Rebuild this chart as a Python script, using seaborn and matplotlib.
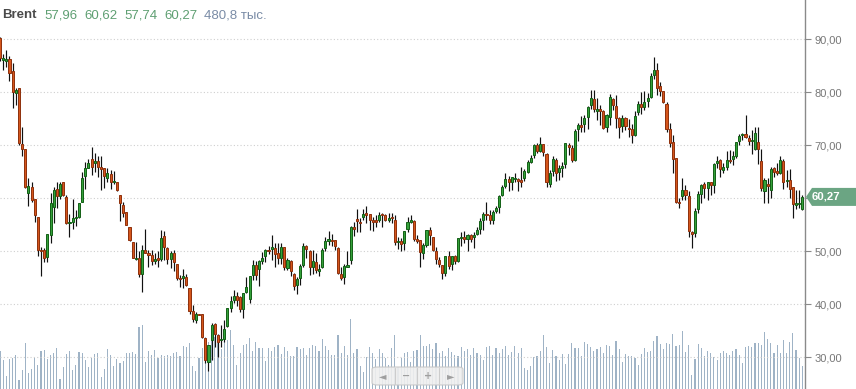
import matplotlib
matplotlib.use("Agg")
import matplotlib.pyplot as plt
import seaborn as sns
import numpy as np
import pandas as pd
from matplotlib.patches import Polygon, FancyBboxPatch
from matplotlib.lines import Line2D

sns.set_theme(style="white")
plt.rcParams['font.family'] = ['Liberation Sans', 'DejaVu Sans']

# ---------------- data (weekly Brent candles) ----------------
opens = [
    90.2,86.1,85.9,86.2,84.0,79.8,80.9,70.3,69.3,61.1, 62.1,59.9,56.4,50.3,50.3,49.0,53.0,58.3,61.7,60.5,
    63.0,60.2,55.3,55.6,56.2,56.5,59.4,64.2,65.8,67.4, 66.6,67.0,65.8,65.7,63.9,64.6,63.0,63.1,60.6,58.7,
    57.4,54.6,51.8,
    48.5,48.8,45.8,50.3,49.5,49.3,48.2,48.6,48.6,52.9, 50.6,48.5,49.7,47.7,45.0,45.0,45.1,43.0,38.7,37.0,
    38.1,38.1,33.6,29.2,33.2,36.3,34.2,33.2,33.5,35.9, 39.3,40.8,41.5,41.3,39.2,42.4,41.1,45.5,47.5,46.6,
    48.2,49.1,50.3,
    50.4,50.6,49.7,48.7,50.8,46.9,48.2,45.8,43.6,44.9, 47.4,51.0,50.1,47.1,47.9,46.3,47.1,50.6,52.0,52.2,
    52.2,50.6,45.8,45.1,47.1,48.4,54.5,56.0,55.5,56.4, 57.1,57.0,55.9,55.9,55.9,57.0,56.8,56.0,56.4,56.0,
    51.7,52.0,51.5,
    54.2,55.6,55.7,52.3,52.2,49.7,51.2,54.0,52.8,50.1, 48.4,47.4,46.0,49.1,47.6,49.2,48.2,52.5,52.7,52.3,
    53.0,52.7,53.3,54.3,55.9,57.0,56.8,56.0,57.7,58.4, 60.6,62.3,63.6,63.1,63.6,63.5,63.4,63.8,65.0,66.9,
    68.2,70.0,
    69.0,70.2,68.4,62.7,65.2,67.2,65.0,65.8,66.4,70.0, 69.5,67.2,73.0,73.8,74.0,75.3,77.6,78.7,76.5,76.8,
    76.5,73.4,75.3,78.8,77.4,75.2,73.7,75.1,73.3,73.1, 72.0,76.2,77.8,77.3,78.4,79.2,83.2,84.2,81.2,80.3,
    77.8,73.1,70.7,
    67.6,59.4,60.4,61.6,60.4,53.7,53.4,57.9,60.9,62.8, 62.0,63.1,62.5,66.7,67.2,65.4,66.0,67.2,67.5,67.9,
    70.9,71.9,72.1,71.3,70.8,69.4,70.6,67.0,61.3,62.6, 61.5,65.8,65.2,64.7,67.0,63.2,63.5,62.1,58.8,58.9,
    57.96,
]
highs = [
    90.4,87.2,88.0,86.9,85.5,80.8,80.9,73.4,69.3,63.8, 63.0,59.9,56.4,50.8,50.6,53.2,61.1,62.1,63.0,63.1,
    63.1,60.6,57.0,59.9,57.8,59.2,65.0,66.9,67.4,69.7, 68.5,67.9,67.9,65.8,65.8,65.3,65.2,63.1,60.6,59.3,
    57.4,54.6,51.8,
    51.8,50.1,51.2,54.3,50.3,50.3,49.7,50.1,54.1,53.8, 50.9,50.1,50.3,47.7,45.5,46.6,45.8,43.0,39.9,38.6,
    38.2,38.1,33.6,32.3,36.4,36.4,34.5,36.1,37.0,39.3, 41.5,42.7,42.4,41.5,42.1,45.2,45.3,48.4,48.1,48.4,
    49.9,50.4,51.0,
    53.1,51.5,51.5,51.6,50.8,48.8,48.4,46.0,45.2,47.7, 51.5,51.2,50.3,50.3,49.6,47.7,50.7,52.8,53.8,53.3,
    52.2,50.9,47.0,47.7,50.1,54.8,55.5,57.9,56.2,57.9, 58.6,57.0,56.4,56.9,57.4,57.3,57.0,57.3,57.3,56.9,
    52.8,52.5,53.8,
    56.4,56.9,55.9,53.1,52.2,51.5,54.0,54.6,52.8,50.9, 49.0,47.4,49.1,50.1,49.2,49.4,52.5,53.7,53.8,53.3,
    53.3,53.7,54.6,56.2,57.5,59.4,57.8,57.8,58.6,60.6, 62.5,64.7,64.3,64.1,64.7,63.8,66.0,65.5,67.2,68.2,
    70.2,70.4,
    71.5,70.2,68.6,65.3,67.9,67.7,66.3,66.9,70.5,70.4, 70.1,73.0,74.2,75.5,75.7,77.4,80.4,80.4,79.0,77.6,
    76.7,75.9,79.7,78.9,79.5,75.3,75.7,75.4,74.9,74.0, 76.5,78.4,80.0,80.2,79.8,83.6,86.7,85.5,82.0,80.3,
    78.2,74.3,72.0,
    67.6,60.0,63.8,62.5,61.3,53.8,58.2,61.3,62.8,63.1, 63.1,63.1,66.6,67.9,67.5,66.6,69.0,69.1,69.0,70.7,
    72.1,72.3,75.7,71.9,72.9,73.4,73.4,69.3,63.8,63.8, 66.0,66.0,66.7,67.9,67.5,65.3,65.5,62.1,61.6,61.6,
    60.62,
]
lows = [
    86.0,84.3,84.7,82.2,77.0,77.6,70.1,68.0,61.9,58.6, 59.4,55.6,49.2,45.4,48.0,47.9,51.6,55.4,58.1,59.9,
    60.4,55.2,52.8,54.2,54.8,56.2,59.4,61.7,65.7,64.4, 65.0,64.1,61.5,61.9,63.1,61.8,62.8,61.3,55.8,56.5,
    54.9,51.9,48.7,
    48.4,45.2,42.4,49.6,47.0,47.4,47.7,47.1,48.1,48.4, 47.7,46.8,46.2,44.5,43.3,43.0,43.5,38.2,36.7,36.4,
    37.9,33.6,28.9,27.5,29.5,32.0,30.1,32.0,32.9,35.8, 38.6,40.2,39.6,38.6,37.5,42.1,40.3,44.5,44.5,43.5,
    47.7,47.9,49.5,
    48.4,47.1,47.7,47.6,46.5,46.5,45.4,42.8,41.9,43.6, 47.1,48.7,45.5,45.8,46.0,45.4,46.8,50.0,51.2,51.0,
    50.3,45.8,44.6,43.8,47.0,47.7,52.9,53.7,53.7,56.0, 55.4,54.0,53.8,54.6,55.6,54.6,55.7,55.6,55.3,51.2,
    50.4,50.0,50.3,
    53.7,55.3,52.0,51.5,47.0,48.5,50.9,51.2,50.0,47.7, 47.0,44.7,45.4,46.6,46.5,47.7,47.9,51.0,51.5,50.1,
    51.8,50.6,53.1,53.3,54.0,55.9,55.2,55.2,57.3,57.3, 60.4,62.0,61.3,61.6,63.1,61.3,62.1,63.3,64.7,66.6,
    67.7,68.5,
    68.8,67.9,62.1,62.1,64.2,63.3,63.5,64.1,65.7,68.2, 66.9,67.1,70.9,72.6,72.6,73.1,76.9,76.2,74.8,73.8,
    73.1,72.6,73.8,76.7,73.2,71.3,72.6,72.9,71.5,70.5, 71.8,75.7,75.9,76.7,77.3,78.9,82.6,79.5,79.3,77.9,
    72.6,69.7,64.8,
    59.1,58.1,59.6,59.7,52.8,50.6,52.8,57.3,59.1,60.1, 59.7,60.6,61.1,65.8,64.1,64.7,65.4,66.6,66.2,67.7,
    70.1,71.0,71.3,70.1,68.3,69.1,66.4,61.3,59.2,59.2, 60.0,64.1,64.4,64.6,61.7,62.2,60.0,56.2,57.9,58.1,
    57.74,
]
closes = [
    86.4,86.2,86.1,83.7,80.0,80.4,70.5,69.4,62.2,62.3, 59.7,56.9,50.3,50.0,48.8,53.2,59.2,61.6,60.4,62.7,
    60.6,55.3,55.5,56.2,56.4,59.2,63.8,65.7,66.6,66.0, 67.0,65.9,65.6,64.2,64.7,63.1,63.3,61.5,59.2,57.3,
    55.0,52.1,48.8,
    48.8,45.8,50.3,49.6,49.3,48.2,48.5,48.4,52.6,50.9, 48.5,49.6,48.0,44.9,44.7,45.2,43.6,38.8,37.2,38.2,
    37.9,33.8,29.5,32.3,36.1,34.5,32.9,33.4,35.3,39.3, 40.6,41.6,40.8,39.2,42.1,43.2,45.3,47.5,45.5,48.2,
    48.8,50.3,50.0,
    50.8,49.5,48.7,50.8,47.0,48.4,46.2,43.5,44.7,47.3, 51.0,50.4,47.1,48.1,46.4,46.5,50.3,52.0,52.3,51.9,
    51.1,46.0,44.9,47.2,47.4,54.6,54.3,55.8,55.3,57.0, 56.9,55.9,55.6,55.6,56.8,56.8,55.9,56.2,56.2,51.8,
    52.0,51.3,53.8,
    55.5,55.9,52.3,52.0,49.9,51.2,54.0,53.0,50.3,48.6, 47.7,46.0,49.1,47.3,49.2,48.2,52.5,52.7,52.4,53.0,
    52.3,52.9,54.0,55.7,57.0,56.8,56.0,57.4,58.1,60.4, 62.2,63.6,63.0,64.0,63.9,63.3,63.1,65.2,66.9,67.7,
    70.0,69.0,
    70.2,68.8,63.1,64.8,67.4,64.8,65.7,66.1,70.4,69.6, 67.2,72.7,73.8,73.5,75.1,77.2,78.9,76.8,76.8,76.5,
    73.3,75.7,79.2,77.7,75.2,73.4,75.2,73.7,73.0,72.0, 75.5,77.8,77.3,78.2,78.9,83.1,84.2,80.9,80.3,78.1,
    73.0,70.4,67.5,
    59.4,59.1,61.6,60.6,53.9,53.3,57.6,60.8,62.6,61.9, 63.0,62.5,66.5,67.0,65.5,66.0,67.2,67.0,67.9,70.6,
    71.8,72.1,71.5,70.9,71.0,72.3,69.4,62.0,63.5,62.4, 65.5,64.9,64.7,67.2,63.0,63.5,61.7,58.9,59.1,59.2,
    60.27,
]
volumes = [  # thousands of contracts
    794,606,271,627,655,710,188,397,968,341,418,641,501,794,815,620,710,759,850,209,459,
    731,801,397,501,766,745,606,466,641,731,759,257,411,829,710,480,620,536,592,745,745,780,
    731,1302,1337,571,794,710,815,641,710,689,710,689,759,780,689,899,885,968,480,383,641,
    850,1094,989,1198,1094,954,829,1080,1024,1233,919,501,759,919,940,1059,794,989,850,864,592,850,
    794,885,919,731,885,801,689,689,885,829,864,710,850,919,899,801,1038,899,815,710,710,
    1128,759,899,710,1456,745,829,480,362,675,885,759,620,829,759,641,501,850,1128,466,641,759,
    780,571,794,815,1128,899,899,933,829,954,745,794,689,850,780,710,689,885,801,829,710,
    850,759,710,606,871,899,710,850,759,829,899,710,780,899,759,850,432,397,480,675,689,
    794,1128,885,550,815,689,606,731,522,731,968,850,850,689,989,940,885,794,829,885,759,
    919,899,710,1003,836,571,731,689,689,641,501,731,850,780,801,1003,1107,940,836,954,940,1149,
    899,919,1212,780,919,292,627,940,850,689,801,759,675,606,759,801,759,710,801,829,710,
    536,885,899,871,954,968,919,1184,1038,954,759,919,759,1024,759,989,1163,815,655,480.8,
]
price_ticks = [30, 40, 50, 60, 70, 80, 90]
ticker = "Brent"
volume_unit = "тыс."

# ---------------- build ----------------
n = len(closes)
df = pd.DataFrame({"i": np.arange(n), "o": opens[:n], "h": highs[:n],
                   "l": lows[:n], "c": closes[:n], "v": volumes[:n]})


def fmt(v):
    return f"{v:.2f}".replace(".", ",")


W, H = 856, 389
fig = plt.figure(figsize=(W / 100, H / 100), dpi=100)
fig.patch.set_facecolor("white")

ax_vol = fig.add_axes([0, 0, 805 / W, 1])
ax_vol.set_facecolor("white")
ax = ax_vol.twinx()

# volume bars (background)
sns.barplot(data=df, x="i", y="v", native_scale=True, ax=ax_vol, color="#9fb3c6",
            width=0.36, saturation=1, errorbar=None, linewidth=0, legend=False)
ax_vol.set_ylim(0, 8130)
ax_vol.set_xlabel("")
ax_vol.set_ylabel("")
ax_vol.set_yticks([])

# grid
gridx = list(range(15, n, 20))
ax.set_xticks(gridx)
ax.set_yticks(price_ticks)
# the label under the last-price tag is hidden in the reference
ax.set_yticklabels([fmt(t) if abs(t - closes[-1]) > 2 else "" for t in price_ticks])
ax.yaxis.grid(True, color="#cfcfcf", linestyle=(0, (1, 2)), linewidth=0.8, zorder=0)
ax.xaxis.grid(True, color="#c9d8c9", linestyle=(0, (1, 2)), linewidth=0.8, zorder=0)
ax.set_axisbelow(True)

# candles
x = df["i"].to_numpy()
o = df["o"].to_numpy(); c = df["c"].to_numpy()
hi = df["h"].to_numpy(); lo = df["l"].to_numpy()
up = c >= o
body_lo = np.minimum(o, c)
body_h = np.maximum(np.abs(c - o), 0.3)
ax.vlines(x, lo, hi, color="#111111", linewidth=0.85, zorder=2)
ax.bar(x[up], body_h[up], bottom=body_lo[up], width=0.66, color="#34a13a",
       edgecolor="#135f16", linewidth=0.7, zorder=3)
ax.bar(x[~up], body_h[~up], bottom=body_lo[~up], width=0.66, color="#d5561c",
       edgecolor="#8e300c", linewidth=0.7, zorder=3)

ax.set_xlim(0, 254.83)
ax.set_ylim(24.03, 97.42)

for a in (ax, ax_vol):
    for s in a.spines.values():
        s.set_visible(False)
ax.spines["right"].set_visible(True)
ax.spines["right"].set_color("#8a8a8a")
ax.spines["right"].set_linewidth(1.0)
ax.tick_params(axis="x", length=0, labelbottom=False, labeltop=False)
ax_vol.tick_params(axis="x", length=0, labelbottom=False)
ax.tick_params(axis="y", right=True, left=False, labelright=True, labelleft=False,
               length=4, width=0.8, color="#8a8a8a", labelcolor="#777777",
               labelsize=8, pad=3)

# header
yb = 1 - 18 / H
fig.text(2 / W, yb, ticker, fontsize=9.5, fontweight="bold", color="#4a4a4a", va="baseline")
vals = [opens[-1], highs[-1], lows[-1], closes[-1]]
for xp, v in zip([44, 84, 124, 164], vals):
    fig.text(xp / W, yb, fmt(v), fontsize=9.5, color="#5e9f72", va="baseline")
fig.text(204 / W, yb, f"{volumes[-1]:.1f}".replace(".", ",") + " " + volume_unit,
         fontsize=9.5, color="#7a8ca6", va="baseline")

# last price tag
y_disp = ax.transData.transform((0, closes[-1]))[1]
pts = [(806, y_disp), (812, y_disp + 9), (856, y_disp + 9), (856, y_disp - 9), (812, y_disp - 9)]
tag = Polygon([(px / W, py / H) for px, py in pts], closed=True, transform=fig.transFigure,
              facecolor="#6ba583", edgecolor="none")
fig.patches.append(tag)
fig.text(812 / W, y_disp / H, fmt(closes[-1]), color="white", fontsize=8.2,
         fontweight="bold", va="center", ha="left")

# scroll control
box = FancyBboxPatch((372 / W, 4 / H), 91 / W, 18 / H,
                     boxstyle="round,pad=0,rounding_size=0.006",
                     transform=fig.transFigure, facecolor="#efefef", edgecolor="#c6c6c6",
                     linewidth=0.8, alpha=0.9)
fig.patches.append(box)
for dx in (394.5, 416.7, 439.0):
    fig.lines.append(Line2D([dx / W, dx / W], [5 / H, 21 / H], transform=fig.transFigure,
                            color="#cccccc", linewidth=0.8))
for sym, xp in zip(["◄", "−", "+", "►"], [383, 405.7, 427.8, 450.5]):
    fig.text(xp / W, 13 / H, sym, color="#9f9f9f", fontsize=7, ha="center", va="center",
             family=["DejaVu Sans"], fontweight="bold")

fig.savefig("out.png", dpi=100, facecolor="white")
